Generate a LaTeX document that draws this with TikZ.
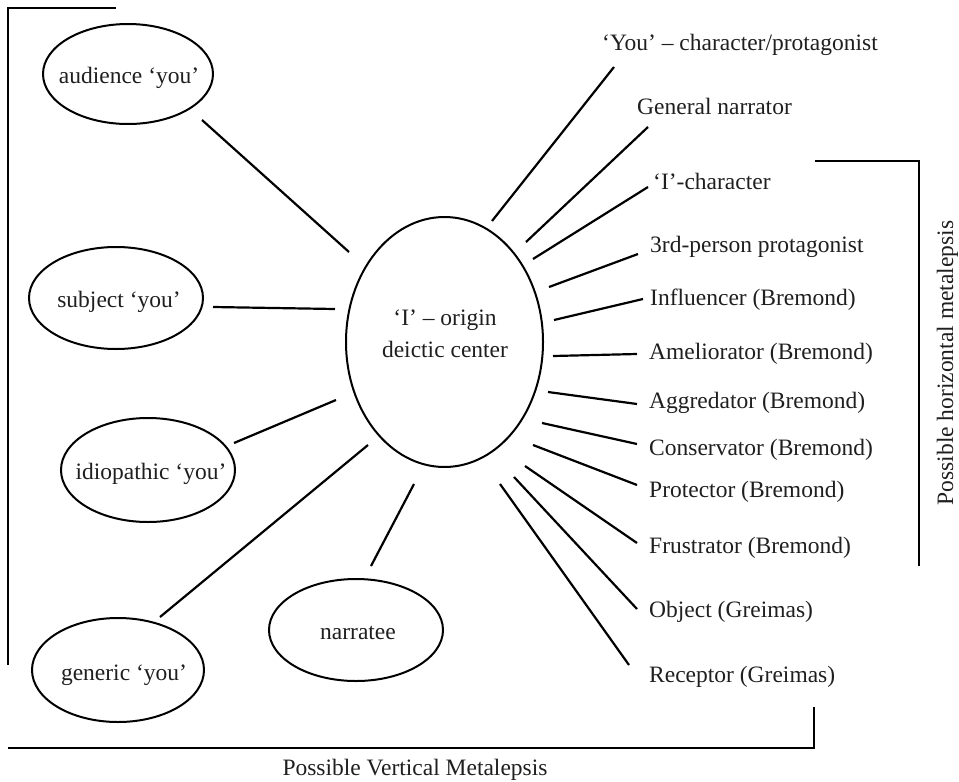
\documentclass[tikz,border=0pt]{standalone}
\usepackage{fontspec}
\setmainfont{Liberation Serif}
\usetikzlibrary{shapes.geometric}
\begin{document}
\begin{tikzpicture}[x=1pt,y=-1pt,
  every node/.style={font=\fontsize{23.5}{28}\selectfont, inner sep=0pt, text=black!88},
  oval/.style={draw, ellipse, line width=2pt},
  conn/.style={line width=2.2pt},
  brk/.style={line width=2.2pt},
  lbl/.style={anchor=base west}]
\useasboundingbox (0,0) rectangle (959,782);

% ellipses
\node[oval, minimum width=170pt, minimum height=100pt] (aud) at (128,74) {};
\node[anchor=base] (audt) at (129,83) {audience ‘you’};
\node[oval, minimum width=174pt, minimum height=102pt] (sub) at (116,298) {};
\node[anchor=base] (subt) at (119,307) {subject ‘you’};
\node[oval, minimum width=174pt, minimum height=104pt] (idi) at (148,470) {};
\node[anchor=base] (idit) at (151,479) {idiopathic ‘you’};
\node[oval, minimum width=172pt, minimum height=104pt] (gen) at (118,670) {};
\node[anchor=base] (gent) at (124,680) {generic ‘you’};
\node[oval, minimum width=174pt, minimum height=102pt] (nar) at (356,630) {};
\node[anchor=base] (nart) at (358,639) {narratee};
\node[oval, minimum width=197pt, minimum height=250pt] (ctr) at (444.5,342) {};
\node[anchor=base] (ctr1) at (445,325) {‘I’ – origin};
\node[anchor=base] (ctr2) at (445,357) {deictic center};

% right labels
\node[lbl] (r1) at (602,50) {‘You’ – character/protagonist};
\node[lbl] (r2) at (637,114) {General narrator};
\node[lbl] (r3) at (653,189) {‘I’-character};
\node[lbl] (r4) at (650,252) {3rd-person protagonist};
\node[lbl] (r5) at (650,305) {Influencer (Bremond)};
\node[lbl] (r6) at (649,359) {Ameliorator (Bremond)};
\node[lbl] (r7) at (649,408) {Aggredator (Bremond)};
\node[lbl] (r8) at (649,455) {Conservator (Bremond)};
\node[lbl] (r9) at (649,497) {Protector (Bremond)};
\node[lbl] (r10) at (649,553) {Frustrator (Bremond)};
\node[lbl] (r11) at (649,617) {Object (Greimas)};
\node[lbl] (r12) at (649,682) {Receptor (Greimas)};

% bracket labels
\node[anchor=base] (vml) at (415,775) {Possible Vertical Metalepsis};
\node[anchor=base, rotate=90] (hml) at (953,363) {Possible horizontal metalepsis};

% connector end points
\coordinate (a1) at (202,120); \coordinate (a2) at (349,252);
\coordinate (s1) at (213,307); \coordinate (s2) at (335,309);
\coordinate (i1) at (234,443); \coordinate (i2) at (336,400);
\coordinate (g1) at (160,617); \coordinate (g2) at (368,445);
\coordinate (n1) at (371,566); \coordinate (n2) at (414,484);
\coordinate (p1) at (492,221); \coordinate (q1) at (614,67);
\coordinate (p2) at (526,242); \coordinate (q2) at (648,127);
\coordinate (p3) at (533,259); \coordinate (q3) at (648,187);
\coordinate (p4) at (549,287); \coordinate (q4) at (638,254);
\coordinate (p5) at (554,320); \coordinate (q5) at (643,299);
\coordinate (p6) at (553,356); \coordinate (q6) at (637,354);
\coordinate (p7) at (548,392); \coordinate (q7) at (637,404);
\coordinate (p8) at (542,423); \coordinate (q8) at (637,444);
\coordinate (p9) at (533,445); \coordinate (q9) at (637,485);
\coordinate (p10) at (525,466); \coordinate (q10) at (637,543);
\coordinate (p11) at (514,477); \coordinate (q11) at (637,609);
\coordinate (p12) at (500,484); \coordinate (q12) at (629,665);

\foreach \u/\v in {a1/a2,s1/s2,i1/i2,g1/g2,n1/n2,p1/q1,p2/q2,p3/q3,p4/q4,p5/q5,p6/q6,p7/q7,p8/q8,p9/q9,p10/q10,p11/q11,p12/q12}
  \draw[conn] (\u) -- (\v);

% brackets
\draw[brk] (116,8) -- (8,8) -- (8,665);
\draw[brk] (8,748) -- (814,748) -- (814,707);
\draw[brk] (815,161) -- (919,161) -- (919,566);
\end{tikzpicture}
\end{document}
